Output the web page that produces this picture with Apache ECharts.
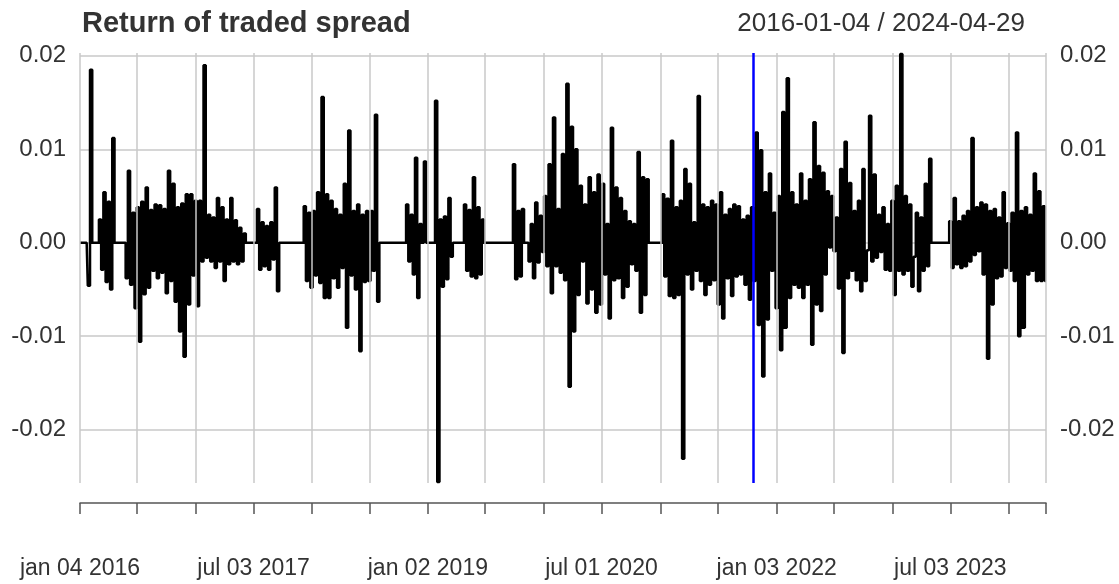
<!DOCTYPE html>
<html>
<head>
<meta charset="utf-8">
<script src="https://cdn.jsdelivr.net/npm/echarts@6/dist/echarts.min.js"></script>
<style>
  html, body { margin: 0; padding: 0; background: #fff; }
  #chartsDiv { width: 1119px; height: 584px; }
</style>
</head>
<body>
<div id="chartsDiv"></div>
<script>
// weekly samples, starting 2016-01-04, one value every 7 days
var startDate = '2016-01-04'
var endDate = '2024-04-29'
var eventDate = '2021-10-20'

var wk2016 = [
  0, 0, 0, 0, -0.0046, 0.0185, 0, 0, 0, 0.0025,
  -0.0029, 0.0054, -0.0042, 0.0044, -0.0050, 0.0112, 0, 0, 0, 0,
  0, -0.0038, 0.0077, -0.0045, 0.0032, -0.0070, 0.0038, -0.0106, 0.0044, -0.0055,
  0.0059, -0.0048, 0.0035, -0.0030, 0.0041, -0.0038, 0.0040, -0.0032, 0.0036, -0.0054,
  0.0077, -0.0041, 0.0063, -0.0063, 0.0038, -0.0095, 0.0042, -0.0122, 0.0052, -0.0066,
  0.0052, -0.0035
]
var wk2017 = [
  0.0045, -0.0068, 0.0045, -0.0020, 0.0190, -0.0016, 0.0030, -0.0020, 0.0027, -0.0027,
  0.0048, -0.0020, 0.0038, -0.0041, 0.0025, -0.0023, 0.0048, -0.0020, 0.0024, -0.0023,
  0.0016, -0.0020, 0.0010, 0, 0, 0, 0, 0, 0.0036, -0.0029,
  0.0022, -0.0025, 0.0018, -0.0029, 0.0022, -0.0018, 0.0059, -0.0052, 0, 0,
  0, 0, 0, 0, 0, 0, 0, 0, 0, 0.0039,
  -0.0041, 0.0032
]
var wk2018 = [
  -0.0048, 0.0034, -0.0035, 0.0054, -0.0043, 0.0156, -0.0059, 0.0052, -0.0059, 0.0045,
  -0.0038, 0.0036, -0.0048, 0.0030, -0.0027, 0.0063, -0.0091, 0.0120, -0.0035, 0.0034,
  -0.0050, 0.0041, -0.0116, 0.0030, -0.0042, 0.0034, -0.0041, 0.0034, -0.0030, 0.0137,
  -0.0063, 0, 0, 0, 0, 0, 0, 0, 0, 0,
  0, 0, 0, 0.0041, -0.0020, 0.0030, -0.0034, 0.0091, -0.0059, 0.0020,
  0, 0.0087
]
var wk2019 = [
  0, 0, 0, 0, 0.0152, -0.0256, 0.0025, -0.0047, 0.0028, -0.0039,
  0.0048, -0.0015, 0, 0, 0, 0, 0, 0.0041, -0.0030, 0.0035,
  -0.0036, 0.0070, -0.0038, 0.0038, -0.0034, 0.0025, 0, 0, 0, 0,
  0, 0, 0, 0, 0, 0, 0, 0, 0, 0.0084,
  -0.0039, 0.0034, -0.0036, 0.0036, 0, 0, -0.0020, 0.0020, -0.0038, 0.0043,
  -0.0021, 0.0029
]
var wk2020 = [
  -0.0010, 0.0050, -0.0025, 0.0084, -0.0054, 0.0134, -0.0025, 0.0036, -0.0032, 0.0095,
  -0.0040, 0.0170, -0.0154, 0.0124, -0.0095, 0.0100, -0.0056, 0.0061, -0.0020, 0.0041,
  -0.0065, 0.0070, -0.0050, 0.0054, -0.0075, 0.0073, -0.0066, 0.0063, -0.0034, 0.0020,
  -0.0081, 0.0123, -0.0040, 0.0059, -0.0038, 0.0048, -0.0059, 0.0034, -0.0047, 0.0023,
  -0.0023, 0.0020, -0.0030, 0.0097, -0.0075, 0.0070, -0.0056, 0.0068, 0, 0,
  0, 0
]
var wk2021 = [
  0, 0, 0.0052, -0.0036, 0.0047, -0.0057, 0.0109, -0.0059, 0.0038, -0.0056,
  0.0045, -0.0231, 0.0079, -0.0034, 0.0063, -0.0050, 0.0022, -0.0030, 0.0157, -0.0041,
  0.0041, -0.0056, 0.0038, -0.0045, 0.0045, -0.0040, 0.0041, -0.0066, 0.0054, -0.0081,
  0.0030, -0.0038, 0.0036, -0.0057, 0.0041, -0.0036, 0.0039, -0.0034, 0.0025, -0.0045,
  0.0029, -0.0061, 0.0038, -0.0041, 0.0118, -0.0088, 0.0099, -0.0143, 0.0054, -0.0082,
  0.0074, -0.0030
]
var wk2022 = [
  0.0032, -0.0070, 0.0050, -0.0115, 0.0140, -0.0091, 0.0176, -0.0059, 0.0054, -0.0045,
  0.0041, -0.0048, 0.0074, -0.0059, 0.0045, -0.0045, 0.0068, -0.0109, 0.0129, -0.0066,
  0.0082, -0.0073, 0.0075, -0.0034, 0.0055, -0.0005, 0.0050, -0.0009, 0.0027, -0.0049,
  0.0079, -0.0118, 0.0108, -0.0038, 0.0064, -0.0030, 0.0034, -0.0040, 0.0045, -0.0052,
  0.0079, -0.0041, -0.0008, 0.0136, -0.0020, 0.0073, -0.0016, 0.0030, -0.0010, 0.0038,
  -0.0029, 0.0020
]
var wk2023 = [
  -0.0030, 0.0045, -0.0056, 0.0061, -0.0030, 0.0202, -0.0034, 0.0050, -0.0030, 0.0041,
  -0.0047, -0.0015, 0.0032, -0.0052, 0.0027, -0.0030, 0.0063, -0.0025, 0.0090, 0,
  0, 0, 0, 0, 0, 0, 0, 0.0023, -0.0027, 0.0048,
  -0.0023, 0.0023, -0.0027, 0.0029, -0.0025, 0.0034, -0.0020, 0.0112, -0.0013, 0.0038,
  -0.0009, 0.0043, -0.0034, 0.0041, -0.0124, 0.0034, -0.0066, 0.0036, -0.0038, 0.0027,
  -0.0036, 0.0054
]
var wk2024 = [
  -0.0027, 0.0021, -0.0030, 0.0032, -0.0041, 0.0118, -0.0100, 0.0034, -0.0091, 0.0038,
  -0.0034, 0.0030, -0.0030, 0.0074, -0.0041, 0.0055, -0.0041, 0.0039, -0.0041
]

// x axis ticks (first trading day of jan / jul) and the labelled ones
var tickDates = ['2016-01-04', '2016-07-01', '2017-01-02', '2017-07-03', '2018-01-02',
  '2018-07-02', '2019-01-02', '2019-07-01', '2020-01-02', '2020-07-01', '2021-01-04',
  '2021-07-01', '2022-01-03', '2022-07-01', '2023-01-02', '2023-07-03', '2024-01-02',
  '2024-04-29']
var labelDates = ['2016-01-04', '2017-07-03', '2019-01-02', '2020-07-01', '2022-01-03', '2023-07-03']
var labelText = ['jan 04 2016', 'jul 03 2017', 'jan 02 2019', 'jul 01 2020', 'jan 03 2022', 'jul 03 2023']

var FONT = 'Liberation Sans, Arial, sans-serif'
var DAY = 86400000
var parseT = function(s) {
  var p = s.split('-')
  return Date.UTC(+p[0], +p[1] - 1, +p[2])
}

var weekly = [].concat(wk2016, wk2017, wk2018, wk2019, wk2020, wk2021, wk2022, wk2023, wk2024)
var t0 = parseT(startDate)
var seriesData = weekly.map(function(v, i) {
  return [t0 + i * 7 * DAY, v]
})
var tickTimes = tickDates.map(parseT)
var labelTimes = labelDates.map(parseT)

var realChart = echarts.init(document.getElementById('chartsDiv'), null, { renderer: 'canvas' })

var yLabel = {
  fontFamily: FONT,
  fontSize: 24,
  color: '#333',
  margin: 14,
  showMinLabel: false,
  showMaxLabel: false,
  formatter: function(value) {
    return value.toFixed(2)
  }
}

var option = {
  animation: false,
  backgroundColor: '#fff',
  title: [
    {
      text: 'Return of traded spread',
      left: 77,
      top: 4,
      textStyle: { fontFamily: FONT, fontSize: 29, fontWeight: 'bold', color: '#333' }
    },
    {
      text: startDate + ' / ' + endDate,
      right: 89,
      top: 6,
      textStyle: { fontFamily: FONT, fontSize: 26, fontWeight: 'normal', color: '#333' }
    }
  ],
  grid: {
    left: 80,
    right: 73,
    top: 53,
    bottom: 101,
    containLabel: false
  },
  xAxis: {
    // timestamps on a plain value axis so custom tick dates can be used
    type: 'value',
    min: parseT(startDate),
    max: parseT(endDate),
    offset: 20,
    axisLine: { show: true, onZero: false, lineStyle: { color: '#555', width: 1.5 } },
    axisTick: {
      show: true,
      customValues: tickTimes,
      length: 11,
      lineStyle: { color: '#555', width: 1.5 }
    },
    axisLabel: {
      customValues: labelTimes,
      margin: 54,
      fontFamily: FONT,
      fontSize: 23,
      color: '#333',
      formatter: function(value) {
        var k = labelTimes.indexOf(value)
        return k >= 0 ? labelText[k] : ''
      }
    },
    splitLine: { show: false }
  },
  yAxis: [
    {
      type: 'value',
      position: 'left',
      min: -0.0257,
      max: 0.0203,
      splitNumber: 5,
      axisLine: { show: false },
      axisTick: { show: false },
      axisLabel: yLabel,
      splitLine: {
        show: true,
        showMinLine: false,
        showMaxLine: false,
        lineStyle: { color: '#c8c8c8', width: 1.5 }
      }
    },
    {
      type: 'value',
      position: 'right',
      min: -0.0257,
      max: 0.0203,
      splitNumber: 5,
      axisLine: { show: false },
      axisTick: { show: false },
      axisLabel: yLabel,
      splitLine: { show: false }
    }
  ],
  series: [
    {
      // vertical grid lines
      type: 'line',
      data: [],
      z: 1,
      silent: true,
      markLine: {
        silent: true,
        symbol: 'none',
        label: { show: false },
        lineStyle: { color: '#c8c8c8', width: 1.5, type: 'solid' },
        data: tickTimes.map(function(t) { return { xAxis: t } })
      }
    },
    {
      name: 'Return of traded spread',
      type: 'line',
      data: seriesData,
      z: 3,
      step: 'middle',
      showSymbol: false,
      symbol: 'none',
      lineStyle: { color: '#000', width: 2.5 },
      markLine: {
        silent: true,
        symbol: 'none',
        label: { show: false },
        lineStyle: { color: '#0000ff', width: 2.5, type: 'solid' },
        data: [{ xAxis: parseT(eventDate) }]
      }
    }
  ]
}

realChart.setOption(option)
</script>
</body>
</html>
